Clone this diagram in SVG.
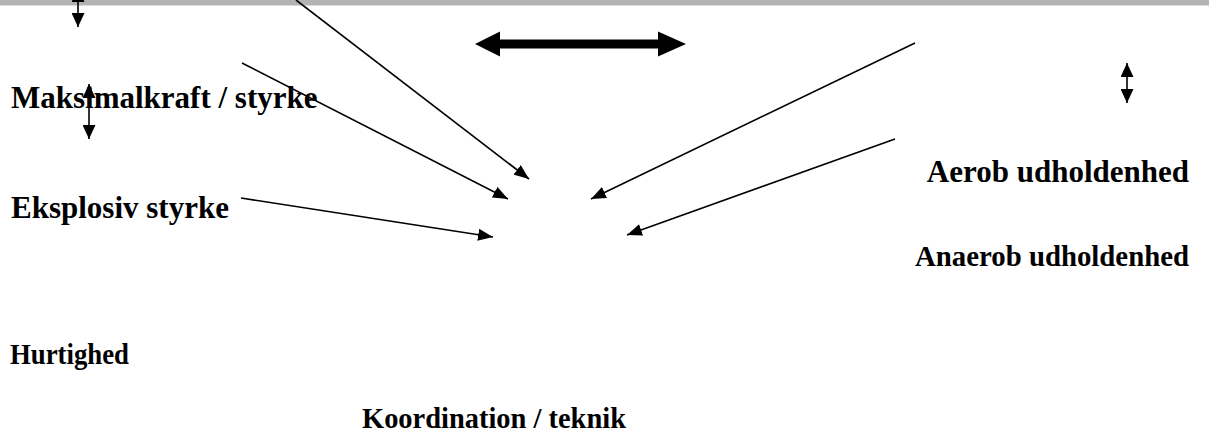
<svg xmlns="http://www.w3.org/2000/svg" width="1209" height="440" viewBox="0 0 1209 440">
<style>
.lbl{font-family:"Liberation Serif","Times New Roman",serif;font-weight:bold;font-size:31px;fill:#000}
.ln{stroke:#000;stroke-width:1.6;fill:none}
</style>
<defs>
<marker id="ah" markerWidth="15" markerHeight="12" refX="15" refY="6" orient="auto" markerUnits="userSpaceOnUse"><path d="M0,0 L15,6 L0,12 Z" fill="#000"/></marker>
<marker id="ahs" markerWidth="14" markerHeight="13" refX="14" refY="6.5" orient="auto-start-reverse" markerUnits="userSpaceOnUse"><path d="M0,0 L14,6.5 L0,13 Z" fill="#000"/></marker>
</defs>
<rect x="0" y="0" width="1209" height="5.5" fill="#b3b3b3"/>
<g id="n-maks"><text class="lbl" x="11" y="108">Maksimalkraft / styrke</text></g>
<g id="n-eksplosiv"><text class="lbl" x="11" y="218">Eksplosiv styrke</text></g>
<g id="n-aerob"><text class="lbl" x="1189" y="182" text-anchor="end">Aerob udholdenhed</text></g>
<g id="n-anaerob"><text class="lbl" x="915" y="266" textLength="274" lengthAdjust="spacingAndGlyphs" style="font-size:30px">Anaerob udholdenhed</text></g>
<g id="n-hurtighed"><text class="lbl" x="10" y="364" textLength="119" lengthAdjust="spacingAndGlyphs" style="font-size:30px">Hurtighed</text></g>
<g id="n-koord"><text class="lbl" x="362" y="428" textLength="264" lengthAdjust="spacingAndGlyphs" style="font-size:30px">Koordination / teknik</text></g>
<g id="connectors">
<line class="ln" x1="296" y1="0" x2="529" y2="179" marker-end="url(#ah)"/>
<line class="ln" x1="242" y1="63" x2="508" y2="199" marker-end="url(#ah)"/>
<line class="ln" x1="241" y1="198" x2="493" y2="237" marker-end="url(#ah)"/>
<line class="ln" x1="915" y1="43" x2="591" y2="199" marker-end="url(#ah)"/>
<line class="ln" x1="895" y1="139" x2="627" y2="235" marker-end="url(#ah)"/>
<line class="ln" x1="78" y1="-12" x2="78" y2="27" marker-start="url(#ahs)" marker-end="url(#ahs)"/>
<line class="ln" x1="89" y1="84" x2="89" y2="139" marker-start="url(#ahs)" marker-end="url(#ahs)"/>
<line class="ln" x1="1127" y1="63" x2="1127" y2="103" marker-start="url(#ahs)" marker-end="url(#ahs)"/>
<path d="M475,44 L500,31.5 L500,39.5 L658,39.5 L658,31.5 L686,44 L658,56.5 L658,48.5 L500,48.5 L500,56.5 Z" fill="#000"/>
</g>
</svg>
